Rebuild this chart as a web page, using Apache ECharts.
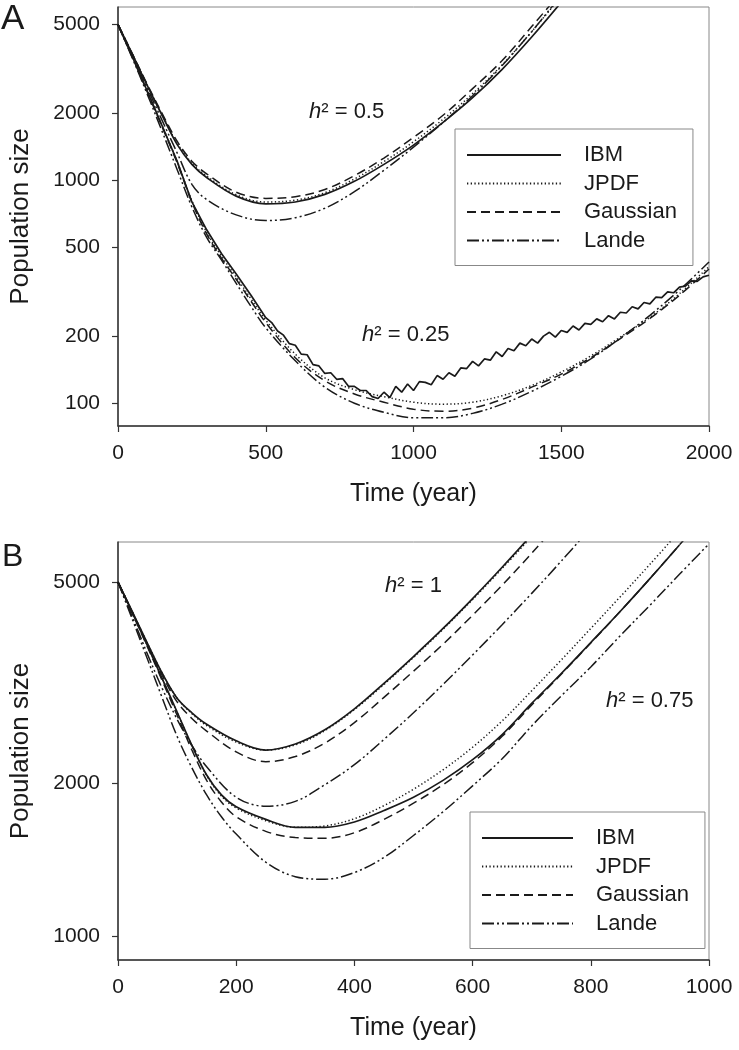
<!DOCTYPE html>
<html><head><meta charset="utf-8">
<script src="https://cdn.jsdelivr.net/npm/echarts@6/dist/echarts.min.js"></script>
<style>html,body{margin:0;padding:0;background:#fff}#c{width:739px;height:1050px}</style>
</head><body><div id="c"></div>
<script>
// ---------- Data ----------
const seriesNames = ['IBM', 'JPDF', 'Gaussian', 'Lande'];

// Panel A, h^2 = 0.5
const timeA05 = [0,50,100,150,200,250,300,400,500,600,700,800,900,1000,1100,1200,1300,1400,1500];
const ibmA05   = [5000,3650,2650,1950,1450,1180,1030,850,785,800,865,990,1180,1440,1820,2350,3150,4400,6300];
const jpdfA05  = [5000,3660,2660,1960,1470,1195,1045,862,800,815,880,1015,1215,1490,1880,2450,3300,4650,6700];
const gaussA05 = [5000,3670,2680,1990,1500,1220,1070,885,830,845,910,1050,1260,1560,1960,2580,3450,4900,7000];
const landeA05 = [5000,3620,2580,1850,1330,960,820,700,660,680,750,890,1110,1410,1820,2400,3280,4650,6800];

// Panel A, h^2 = 0.25 (model curves)
const timeA025 = [0,50,100,150,200,250,300,350,400,450,500,600,700,800,900,1000,1100,1200,1300,1400,1500,1600,1700,1800,1900,2000];
const jpdfA025  = [5000,3550,2500,1750,1215,810,585,458,368,294,236,166,130,115,107,101,99,101,108,120,138,163,198,243,310,410];
const gaussA025 = [5000,3540,2480,1730,1200,800,575,448,360,287,230,160,126,110,101,94,92,95,104,118,135,160,195,240,305,400];
const landeA025 = [5000,3500,2420,1650,1120,760,555,440,345,272,218,155,118,100,91,86,86,90,99,113,132,158,196,248,322,430];

// Panel A, h^2 = 0.25 (individual-based simulation, noisy)
const timeIbmA025 = [0,50,100,150,200,250,300,350,400,450,500,520,540,560,580,600,620,640,660,680,700,720,740,760,780,800,820,840,860,880,900,920,940,960,980,1000,1020,1040,1060,1080,1100,1120,1140,1160,1180,1200,1220,1240,1260,1280,1300,1320,1340,1360,1380,1400,1420,1440,1460,1480,1500,1520,1540,1560,1580,1600,1620,1640,1660,1680,1700,1720,1740,1760,1780,1800,1820,1840,1860,1880,1900,1920,1940,1960,1980,2000];
const ibmA025 = [5000,3550,2500,1750,1220,800,600,470,380,305,242,230,211,202,185,182,166,165,149,147,136,137,128,129,119,119,114,114,107,105,112,106,119,112,122,114,125,124,121,133,128,137,132,144,143,154,147,158,156,170,162,176,172,186,181,194,186,200,208,198,212,208,222,213,228,226,239,232,247,239,256,254,271,265,283,279,299,298,316,313,332,335,354,352,369,375];

// Panel B, h^2 = 1
const timeB1 = [0,25,50,75,100,125,150,200,250,300,350,400,450,500,550,600,650,700,750,800];
const ibmB1   = [5000,4350,3780,3300,2950,2760,2620,2430,2330,2395,2555,2810,3155,3565,4050,4640,5350,6200];
const jpdfB1  = [5000,4350,3780,3300,2950,2750,2605,2415,2330,2385,2545,2800,3140,3550,4035,4620,5320,6150];
const gaussB1 = [5000,4340,3760,3270,2900,2690,2540,2310,2210,2262,2405,2640,2960,3335,3770,4300,4930,5700,6650];
const landeB1 = [5000,4250,3600,3080,2680,2380,2160,1880,1805,1845,1990,2180,2445,2760,3140,3590,4120,4750,5500,6400];

// Panel B, h^2 = 0.75
const timeB075 = [0,25,50,75,100,125,150,175,200,250,300,350,400,450,500,550,600,650,700,750,800,850,900,950,1000];
const ibmB075   = [5000,4330,3740,3220,2770,2380,2080,1900,1800,1700,1640,1640,1680,1770,1880,2030,2230,2500,2880,3300,3800,4380,5080,5920];
const jpdfB075  = [5000,4330,3740,3220,2765,2375,2075,1890,1790,1690,1640,1650,1705,1810,1950,2130,2360,2660,3050,3510,4050,4680,5420,6300];
const gaussB075 = [5000,4320,3720,3190,2730,2330,2030,1840,1720,1610,1565,1560,1600,1700,1830,1990,2200,2480,2860,3290,3790,4380,5080,5920,6900];
const landeB075 = [5000,4200,3520,2950,2480,2150,1900,1720,1590,1400,1310,1295,1335,1430,1580,1760,1980,2240,2600,2980,3400,3920,4500,5180,5950];

// Axis ticks
const ticksXA = {min: 0, max: 2000, interval: 500};
const ticksXB = {min: 0, max: 1000, interval: 200};
const ticksYA = [100, 200, 500, 1000, 2000, 5000];
const ticksYB = [1000, 2000, 5000];

// ---------- Chart ----------
const FONT = "'Liberation Sans', Arial, Helvetica, sans-serif";
const INK = '#1a1a1a';
const zip = (t, v) => v.map((y, i) => [t[i], y]);
const plain = v => String(Math.round(v));

const styles = {
  IBM:      {type: 'solid', width: 1.7},
  JPDF:     {type: [1.3, 2.4], width: 1.5},
  Gaussian: {type: [9, 5], width: 1.5},
  Lande:    {type: [12, 3, 2, 3, 2, 3], width: 1.5}
};

function line(name, t, v, gi, smooth) {
  return {
    type: 'line', name, xAxisIndex: gi, yAxisIndex: gi,
    data: zip(t, v), showSymbol: false, symbol: 'none',
    smooth: smooth === false ? false : 0.35,
    lineStyle: Object.assign({color: INK}, styles[name]),
    itemStyle: {color: INK},
    silent: true, animation: false, clip: true
  };
}

function xAxis(gi, tk) {
  return {
    gridIndex: gi, type: 'value', min: tk.min, max: tk.max, interval: tk.interval,
    name: 'Time (year)', nameLocation: 'middle', nameGap: 56,
    nameTextStyle: {fontSize: 25, color: INK, fontFamily: FONT},
    axisLine: {show: true, lineStyle: {color: '#333', width: 1.5}},
    axisTick: {show: true, inside: false, length: 6, lineStyle: {color: '#333', width: 1.2}},
    axisLabel: {fontSize: 21, color: INK, fontFamily: FONT, margin: 17, formatter: plain},
    splitLine: {show: false}
  };
}
function yAxis(gi, min, max, ticks) {
  return {
    gridIndex: gi, type: 'log', logBase: 10, min, max,
    name: 'Population size', nameLocation: 'middle', nameGap: 84, nameRotate: 90,
    nameTextStyle: {fontSize: 26, color: INK, fontFamily: FONT},
    axisLine: {show: true, lineStyle: {color: '#333', width: 1.5}},
    axisTick: {show: true, inside: false, length: 6, customValues: ticks, lineStyle: {color: '#333', width: 1.2}},
    axisLabel: {fontSize: 21, color: INK, fontFamily: FONT, margin: 18, customValues: ticks, formatter: plain},
    splitLine: {show: false}, minorTick: {show: false}
  };
}
function legend(left, top, itemWidth) {
  return {
    orient: 'vertical', left, top, padding: [15, 16, 14, 11],
    itemWidth, itemHeight: 14, itemGap: 6.5, icon: 'inherit',
    itemStyle: {color: 'rgba(0,0,0,0)', borderColor: 'rgba(0,0,0,0)', borderWidth: 0},
    selectedMode: false,
    borderColor: '#888', borderWidth: 1, backgroundColor: '#fff',
    textStyle: {fontSize: 22, color: INK, fontFamily: FONT, lineHeight: 22, padding: [0, 0, 0, 18]},
    data: seriesNames
  };
}
function note(x, y, val) {
  return {
    type: 'text', x, y, z: 100,
    style: {
      text: '{i|h}² = ' + val,
      rich: {i: {fontStyle: 'italic', fontSize: 22, fontFamily: FONT, fill: INK}},
      fontSize: 22, fontFamily: FONT, fill: INK
    }
  };
}

const chart = echarts.init(document.getElementById('c'), null, {renderer: 'canvas'});
chart.setOption({
  backgroundColor: '#fff',
  animation: false,
  grid: [
    {left: 111, top: 7, width: 598, height: 419, show: true, borderColor: '#888', borderWidth: 1, backgroundColor: 'transparent'},
    {left: 115, top: 542, width: 594, height: 418, show: true, borderColor: '#888', borderWidth: 1, backgroundColor: 'transparent'}
  ],
  xAxis: [xAxis(0, ticksXA), xAxis(1, ticksXB)],
  yAxis: [yAxis(0, 79, 6000, ticksYA), yAxis(1, 897, 6000, ticksYB)],
  legend: [legend(455, 129, 94), legend(470, 812, 91)],
  series: [
    line('IBM', timeA05, ibmA05, 0),
    line('JPDF', timeA05, jpdfA05, 0),
    line('Gaussian', timeA05, gaussA05, 0),
    line('Lande', timeA05, landeA05, 0),
    line('IBM', timeIbmA025, ibmA025, 0, false),
    line('JPDF', timeA025, jpdfA025, 0),
    line('Gaussian', timeA025, gaussA025, 0),
    line('Lande', timeA025, landeA025, 0),
    line('IBM', timeB1, ibmB1, 1),
    line('JPDF', timeB1, jpdfB1, 1),
    line('Gaussian', timeB1, gaussB1, 1),
    line('Lande', timeB1, landeB1, 1),
    line('IBM', timeB075, ibmB075, 1),
    line('JPDF', timeB075, jpdfB075, 1),
    line('Gaussian', timeB075, gaussB075, 1),
    line('Lande', timeB075, landeB075, 1)
  ],
  graphic: [
    {type: 'text', x: 1, y: 2, style: {text: 'A', fontSize: 35, fontFamily: FONT, fill: INK}},
    {type: 'text', x: 2, y: 541, style: {text: 'B', fontSize: 32, fontFamily: FONT, fill: INK}},
    note(309, 101, '0.5'),
    note(362, 324, '0.25'),
    note(385, 575, '1'),
    note(606, 690, '0.75')
  ]
});
</script>
</body></html>
